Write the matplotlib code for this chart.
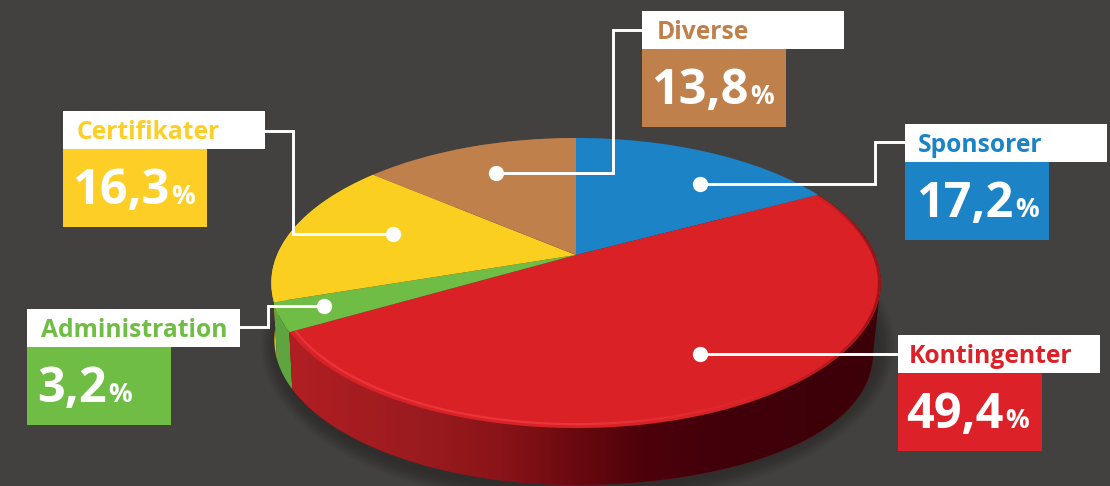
import numpy as np
import matplotlib
matplotlib.use("Agg")
import matplotlib.pyplot as plt
from matplotlib.collections import LineCollection
from matplotlib.patches import Ellipse, Polygon, Rectangle
from matplotlib.path import Path
from matplotlib.transforms import Transform

# ---- data ----
categories = ["Sponsorer", "Kontingenter", "Administration", "Certifikater", "Diverse"]
values = [17.2, 49.4, 3.2, 16.3, 13.8]
value_labels = ["17,2", "49,4", "3,2", "16,3", "13,8"]
colors = ["#1c84c6", "#d92126", "#6fbd44", "#fbcf20", "#bf804b"]
box_colors = ["#1c84c6", "#dc2128", "#6fbd44", "#fdce25", "#bf804b"]
side_colors = ["#125a88", "#8c1418", "#5fa53f", "#e2b81c", "#8a5c36"]

# ---- layout (pixels) ----
BG = "#434140"
box_xy = [(905, 124), (898, 335), (26.5, 309), (63, 111), (642, 11)]
name_xy = [(918, 152), (909, 363), (41, 337), (77, 139), (657, 39)]
num_xy = [(916, 217), (906, 428), (37, 402), (72, 204), (651, 104)]
white_w = [202, 202, 213.5, 202, 202]
leaders = [
    [(700, 184), (875, 184), (875, 142), (905, 142)],
    [(700, 354), (898, 354)],
    [(324, 306), (268, 306), (268, 327), (240, 327)],
    [(393, 234), (293, 234), (293, 131), (265, 131)],
    [(496, 173), (613, 173), (613, 30), (642, 30)],
]
CX, CY, BX, BY, K = 576.0, 255.0, 299.0, 139.6, 0.193
DEPTH = 57.0


def project(x, y):
    w = 1 + K * y
    return CX + BX * x / w, CY - BY * y / w


class Perspective(Transform):
    """Tilted-disc projection of the unit pie onto the page."""
    input_dims = output_dims = 2
    is_affine = False
    has_inverse = False

    def transform_non_affine(self, v):
        v = np.asarray(v, float)
        return np.column_stack(project(v[:, 0], v[:, 1]))

    def transform_path_non_affine(self, path):
        return Path(self.transform_non_affine(path.vertices), path.codes)


def rim(t1, t2, r=1.0, n=160):
    t = np.radians(np.linspace(t1, t2, n))
    return np.column_stack(project(r * np.cos(t), r * np.sin(t)))


def lower(pts):
    dx = pts[:, 0] - CX
    shrink = np.where(dx < 0, 0.99, 0.975)
    extra = 13 * np.clip(dx / 300, 0, 1) ** 2
    return np.column_stack((CX + dx * shrink, pts[:, 1] + DEPTH + extra))


fig = plt.figure(figsize=(11.1, 4.86), dpi=100, facecolor=BG)
ax = fig.add_axes([0, 0, 1, 1], facecolor=BG)

wedges, _ = ax.pie(values, colors=colors, startangle=90, counterclock=False, radius=1,
                   wedgeprops=dict(linewidth=0, zorder=5))
ax.set_aspect("auto")
persp = Perspective() + ax.transData
for w in wedges:
    w.set_transform(persp)

# soft shadow below the disc
for g in np.linspace(34, 2, 12):
    ax.add_patch(Ellipse((578, 346), 600 + g, 288 + g, fc="black", ec="none", alpha=0.02, zorder=1))

# side walls (reverse order so the front slices overlap the ones behind)
for w, sc, name in list(zip(wedges, side_colors, categories))[::-1]:
    top = rim(w.theta1, w.theta2)
    bot = lower(top)
    poly = Polygon(np.vstack((top, bot[::-1])), closed=True, fc=sc, ec="none", zorder=2)
    ax.add_patch(poly)
    if name == "Kontingenter":
        stops_x = [280, 420, 500, 570, 640, 720, 890]
        stops = np.array([matplotlib.colors.to_rgb(c) for c in
                          ["#b31f23", "#9a1b1f", "#8a1418", "#6c0a10", "#4e020a", "#41000a", "#3c0008"]])
        xs = np.arange(1110)
        grad = np.stack([np.interp(xs, stops_x, stops[:, i]) for i in range(3)], axis=-1)[None, :, :]
        im = ax.imshow(grad, extent=(0, 1110, 486, 0), aspect="auto", zorder=3)
        im.set_clip_path(poly)
        red = w
        # straight silhouette between the rightmost points of the two rims
        a, b = top[np.argmax(top[:, 0])], bot[np.argmax(bot[:, 0])]
        ax.add_patch(Polygon([a, b, (b[0] - 60, b[1]), (a[0] - 60, a[1])], closed=True,
                             fc="#3c0008", ec="none", zorder=4))

ax.set_xlim(0, 1110)
ax.set_ylim(486, 0)

# rim light on the front edge and soft dark edge on the right
pts = rim(red.theta1, red.theta2, r=0.982, n=400)
segs = np.stack((pts[:-1], pts[1:]), axis=1)
fracs = np.linspace(1, 0, len(segs))  # 0 = right end of red slice, 1 = left end
rgba = np.zeros((len(segs), 4))
rgba[:, :3] = matplotlib.colors.to_rgb("#ee3a40")
rgba[:, 3] = np.clip((fracs - 0.46) / 0.2, 0, 1) * 0.85
ax.add_collection(LineCollection(segs, colors=rgba, linewidths=1.6, zorder=6))
pts = rim(red.theta1, red.theta2, r=0.995, n=400)
segs = np.stack((pts[:-1], pts[1:]), axis=1)
rgba = np.zeros((len(segs), 4))
rgba[:, :3] = matplotlib.colors.to_rgb("#3c0008")
rgba[:, 3] = np.clip((0.5 - fracs) / 0.2, 0, 1) * np.clip(fracs / 0.12, 0.2, 1) * 0.4
ax.add_collection(LineCollection(segs, colors=rgba, linewidths=1.8, zorder=6))

# leaders and dots
for path in leaders:
    p = np.array(path)
    ax.plot(p[:, 0], p[:, 1], color="white", lw=2.1, solid_joinstyle="miter", zorder=8)
    ax.plot(p[0, 0], p[0, 1], "o", color="white", ms=11, mew=0, zorder=9)
ax.set_xlim(0, 1110)
ax.set_ylim(486, 0)

# label boxes and texts
FONT = "Open Sans"
renderer = fig.canvas.get_renderer()
for name, lab, bc, (bx, by), nxy, vxy, ww in zip(categories, value_labels, box_colors,
                                                 box_xy, name_xy, num_xy, white_w):
    ax.add_patch(Rectangle((bx, by), ww, 38, fc="white", ec="none", zorder=10))
    ax.add_patch(Rectangle((bx, by + 38), 144, 78, fc=bc, ec="none", zorder=10))
    ax.text(*nxy, name, color=bc, family=FONT, weight="bold", fontsize=17.7, va="baseline", zorder=11)
    t = ax.text(*vxy, lab, color="white", family=FONT, weight="bold", fontsize=35, va="baseline", zorder=11)
    right = t.get_window_extent(renderer).x1
    ax.text(right + 2, vxy[1], "%", color="white", family=FONT, weight="bold", fontsize=19,
            va="baseline", zorder=11)

ax.set_axis_off()
fig.savefig("out.png", dpi=100, facecolor=BG)
